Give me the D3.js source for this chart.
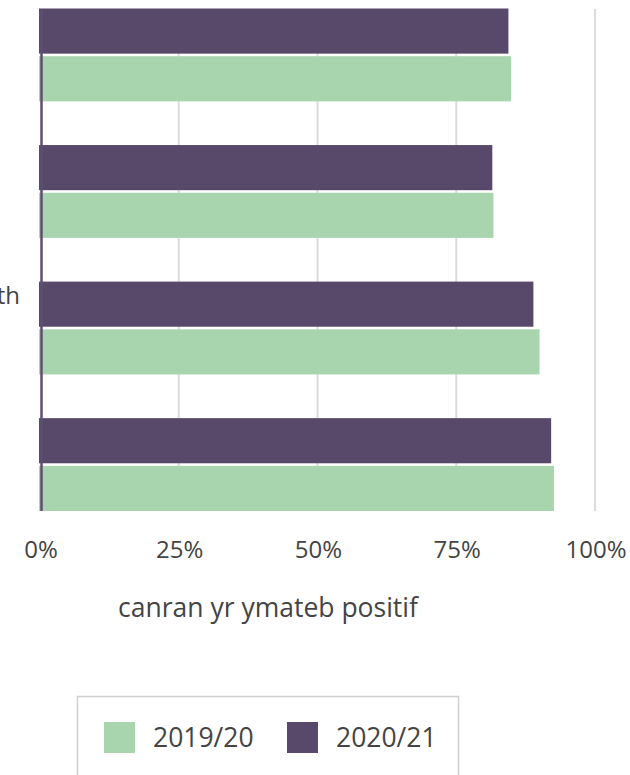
<!DOCTYPE html>
<html>
<head>
<meta charset="utf-8">
<script src="https://cdn.jsdelivr.net/npm/d3@7"></script>
<style>
  html, body { margin: 0; padding: 0; background: #fff; }
  svg { display: block; font-family: "Open Sans", sans-serif; }
</style>
</head>
<body>
<svg id="chart" width="630" height="775"></svg>
<script>
// categories (labels mostly fall outside the cropped view)
const categories = ["", "", "Cymorth", ""];
const series = ["2020/21", "2019/20"];
const values2019 = [84.9, 81.7, 90.0, 92.6];
const values2020 = [84.4, 81.5, 88.9, 92.1];
const xTicks = [0, 25, 50, 75, 100];
const legendItems = ["2019/20", "2020/21"];

const colors = { "2019/20": "#a8d5ae", "2020/21": "#58486a" };
const textCol = "#444";

const svg = d3.select("#chart");

const x = d3.scaleLinear().domain([0, 100]).range([40, 595]);
const y = d3.scaleBand().domain(d3.range(categories.length)).range([8.5, 511])
  .paddingInner(0.32).paddingOuter(0);
const ySub = d3.scaleBand().domain(series).range([0, y.bandwidth()]).paddingInner(0.054);

// grid lines
svg.append("g").selectAll("line")
  .data(xTicks.filter(d => d > 0))
  .join("line")
  .attr("x1", d => x(d)).attr("x2", d => x(d))
  .attr("y1", 9).attr("y2", 511)
  .attr("stroke", "#dcdcdc")
  .attr("stroke-width", 2);

// bars
const rows = categories.map((c, i) => ({ i, "2019/20": values2019[i], "2020/21": values2020[i] }));
const groups = svg.append("g").selectAll("g")
  .data(rows)
  .join("g")
  .attr("transform", d => `translate(0,${y(d.i)})`);

groups.selectAll("rect")
  .data(d => series.map(s => ({ s, v: d[s] })))
  .join("rect")
  .attr("x", x(0) - 1)
  .attr("y", d => ySub(d.s))
  .attr("width", d => x(d.v) - x(0) + 1)
  .attr("height", ySub.bandwidth())
  .attr("fill", d => colors[d.s]);

// zero axis line
svg.append("line")
  .attr("x1", x(0) + 1.5).attr("x2", x(0) + 1.5)
  .attr("y1", 9).attr("y2", 511)
  .attr("stroke", "#5e4e72")
  .attr("stroke-width", 2.5);

// category labels
svg.append("g").selectAll("text")
  .data(categories)
  .join("text")
  .attr("x", 20)
  .attr("y", (d, i) => y(i) + 22)
  .attr("text-anchor", "end")
  .attr("font-size", 24)
  .attr("fill", textCol)
  .text(d => d);

// x tick labels
svg.append("g").selectAll("text")
  .data(xTicks)
  .join("text")
  .attr("x", d => x(d) + 1)
  .attr("y", 558)
  .attr("text-anchor", "middle")
  .attr("font-size", 24)
  .attr("fill", textCol)
  .text(d => d + "%");

// axis title
svg.append("text")
  .attr("x", 268)
  .attr("y", 617)
  .attr("text-anchor", "middle")
  .attr("font-size", 26.5)
  .attr("fill", textCol)
  .text("canran yr ymateb positif");

// legend
const lg = svg.append("g");
lg.append("rect")
  .attr("x", 77.5).attr("y", 696.5)
  .attr("width", 381).attr("height", 110)
  .attr("fill", "none")
  .attr("stroke", "#cfcfcf")
  .attr("stroke-width", 1.5);

const legendX = [104, 287];
legendItems.forEach((s, i) => {
  lg.append("rect")
    .attr("x", legendX[i]).attr("y", 722)
    .attr("width", 31).attr("height", 31)
    .attr("fill", colors[s]);
  lg.append("text")
    .attr("x", legendX[i] + 49)
    .attr("y", 747)
    .attr("font-size", 26.5)
    .attr("fill", textCol)
    .text(s);
});
</script>
</body>
</html>
